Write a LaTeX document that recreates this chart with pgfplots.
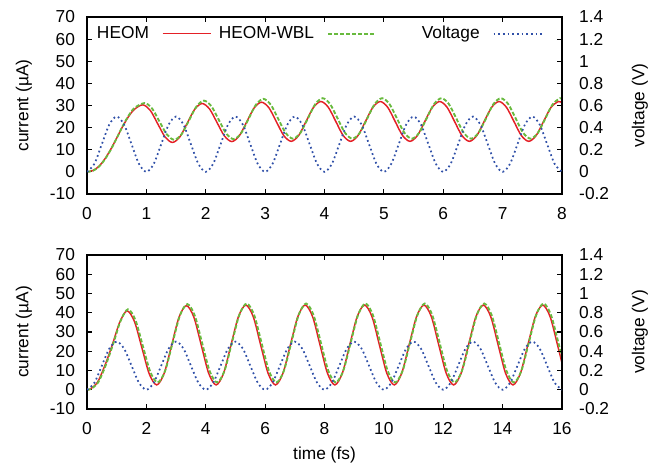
\documentclass[border=0pt]{standalone}
\usepackage{fontspec}
\setmainfont{Liberation Sans}
\usepackage{pgfplots}
\pgfplotsset{compat=1.18}
\definecolor{cred}{RGB}{228,32,38}
\definecolor{cgreen}{RGB}{104,186,62}
\definecolor{cblue}{RGB}{48,80,168}
\newcommand\fs{\fontsize{13pt}{15pt}\selectfont}
\pgfplotsset{
  base/.style={scale only axis, width=356.25pt, xmin=0,
    tick align=inside, major tick length=3.5pt,
    every tick/.style={black, line width=0.9pt},
    axis line style={line width=1.4pt},
    tick label style={font=\fs},
    /pgf/number format/assume math mode=true,
    xticklabel style={yshift=-5.5pt},
  },
  leftax/.style={base, ymin=-10, ymax=70, ytick={-10,0,10,20,30,40,50,60,70},
    ytick pos=left, xtick pos=both,
    yticklabel style={xshift=-4.5pt},
    ylabel={current (µA)},
    every axis y label/.style={at={(rel axis cs:0,0.5)}, xshift=-47.25pt, rotate=90, anchor=center, font=\fs},
  },
  rightax/.style={base, ymin=-0.2, ymax=1.4, ytick={-0.2,0,0.2,0.4,0.6,0.8,1,1.2,1.4},
    hide x axis, ytick pos=right, yticklabel pos=right,
    yticklabel style={xshift=8.4pt, anchor=west},
    ylabel={voltage (V)},
    every axis y label/.style={at={(rel axis cs:1,0.5)}, xshift=58.5pt, rotate=90, anchor=center, font=\fs},
  },
}
\begin{document}
\fs
\begin{tikzpicture}
\path[use as bounding box] (-65.25pt,-204pt) rectangle (431.25pt,145.5pt);
% ---------- top panel ----------
\begin{axis}[leftax, height=132.75pt, xmax=8, xtick={0,1,2,3,4,5,6,7,8},
  legend columns=3, legend plot pos=right,
  legend style={draw=none, fill=none, font=\fs, at={(rel axis cs:0,1)}, anchor=west,
    xshift=-30.5pt, yshift=-12.5pt, inner sep=0pt, outer sep=0pt, row sep=0pt,
    nodes={inner sep=0pt, outer sep=0pt},
    /tikz/every odd column/.style={column sep=9.75pt},
    /tikz/every even column/.style={column sep=0pt}},
]
\addplot[forget plot, color=cred, line width=1.1pt, smooth, no markers] coordinates {
(0,0) (0.1,0.6) (0.2,2.5) (0.3,5.8) (0.4,10.2) (0.5,15.3) (0.6,20.5) (0.7,25.0) (0.8,28.3) (0.94,30.3)
(1.065,27.82) (1.19,21.8) (1.315,15.78) (1.44,13.3)
(1.565,15.87) (1.69,22.1) (1.815,28.33) (1.94,30.9)
(2.065,28.39) (2.19,22.3) (2.315,16.21) (2.44,13.7)
(2.565,16.30) (2.69,22.6) (2.815,28.90) (2.94,31.5)
(3.065,28.92) (3.19,22.65) (3.315,16.38) (3.44,13.8)
(3.565,16.43) (3.69,22.8) (3.815,29.17) (3.94,31.8)
(4.065,29.17) (4.19,22.8) (4.315,16.43) (4.44,13.8)
(4.565,16.43) (4.69,22.8) (4.815,29.17) (4.94,31.8)
(5.065,29.17) (5.19,22.8) (5.315,16.43) (5.44,13.8)
(5.565,16.43) (5.69,22.8) (5.815,29.17) (5.94,31.8)
(6.065,29.17) (6.19,22.8) (6.315,16.43) (6.44,13.8)
(6.565,16.43) (6.69,22.8) (6.815,29.17) (6.94,31.8)
(7.065,29.17) (7.19,22.8) (7.315,16.43) (7.44,13.8)
(7.565,16.43) (7.69,22.8) (7.815,29.17) (7.94,31.8)
(8,31.2)
};
\addplot[forget plot, color=cgreen, line width=1.4pt, dash pattern=on 3pt off 1.5pt, smooth, no markers] coordinates {
(0,0) (0.1,0.5) (0.2,2.3) (0.3,5.6) (0.4,10.0) (0.5,15.2) (0.6,20.6) (0.7,25.4) (0.8,28.9) (0.97,31.1)
(1.095,28.68) (1.22,22.8) (1.345,16.92) (1.47,14.5)
(1.595,17.08) (1.72,23.35) (1.845,29.62) (1.97,32.2)
(2.095,29.66) (2.22,23.5) (2.345,17.34) (2.47,14.8)
(2.595,17.46) (2.72,23.9) (2.845,30.34) (2.97,33.0)
(3.095,30.37) (3.22,24.0) (3.345,17.63) (3.47,15.0)
(3.595,17.67) (3.72,24.15) (3.845,30.63) (3.97,33.3)
(4.095,30.63) (4.22,24.15) (4.345,17.67) (4.47,15.0)
(4.595,17.67) (4.72,24.15) (4.845,30.63) (4.97,33.3)
(5.095,30.63) (5.22,24.15) (5.345,17.67) (5.47,15.0)
(5.595,17.67) (5.72,24.15) (5.845,30.63) (5.97,33.3)
(6.095,30.63) (6.22,24.15) (6.345,17.67) (6.47,15.0)
(6.595,17.67) (6.72,24.15) (6.845,30.63) (6.97,33.3)
(7.095,30.63) (7.22,24.15) (7.345,17.67) (7.47,15.0)
(7.595,17.67) (7.72,24.15) (7.845,30.63) (7.97,33.3)
(8,33.2)
};
\addlegendimage{legend image code/.code={\draw[color=cred, line width=1.1pt, dash pattern=on 40pt off 1pt] (0pt,0pt) -- (36pt,0pt);}}
\addlegendentry{\makebox[77pt][r]{HEOM}}
\addlegendimage{legend image code/.code={\draw[color=cgreen, line width=1.4pt, dash pattern=on 3pt off 1.5pt] (0pt,0pt) -- (36pt,0pt);}}
\addlegendentry{\makebox[77pt][r]{HEOM-WBL}}
\addlegendimage{legend image code/.code={\draw[color=cblue, line width=1.3pt, dash pattern=on 1.3pt off 2.2pt] (0pt,0pt) -- (36pt,0pt);}}
\addlegendentry{\makebox[77pt][r]{Voltage}}
\end{axis}
\begin{axis}[rightax, height=132.75pt, xmax=8]
\addplot[color=cblue, line width=1.3pt, dash pattern=on 1.3pt off 2.2pt, smooth, no markers] coordinates {
(0,0) (0.125,0.0732) (0.25,0.25) (0.375,0.4268) (0.5,0.5) (0.625,0.4268) (0.75,0.25) (0.875,0.0732)
(1,0) (1.125,0.0732) (1.25,0.25) (1.375,0.4268) (1.5,0.5) (1.625,0.4268) (1.75,0.25) (1.875,0.0732)
(2,0) (2.125,0.0732) (2.25,0.25) (2.375,0.4268) (2.5,0.5) (2.625,0.4268) (2.75,0.25) (2.875,0.0732)
(3,0) (3.125,0.0732) (3.25,0.25) (3.375,0.4268) (3.5,0.5) (3.625,0.4268) (3.75,0.25) (3.875,0.0732)
(4,0) (4.125,0.0732) (4.25,0.25) (4.375,0.4268) (4.5,0.5) (4.625,0.4268) (4.75,0.25) (4.875,0.0732)
(5,0) (5.125,0.0732) (5.25,0.25) (5.375,0.4268) (5.5,0.5) (5.625,0.4268) (5.75,0.25) (5.875,0.0732)
(6,0) (6.125,0.0732) (6.25,0.25) (6.375,0.4268) (6.5,0.5) (6.625,0.4268) (6.75,0.25) (6.875,0.0732)
(7,0) (7.125,0.0732) (7.25,0.25) (7.375,0.4268) (7.5,0.5) (7.625,0.4268) (7.75,0.25) (7.875,0.0732)
(8,0)
};
\end{axis}
% ---------- bottom panel ----------
\begin{axis}[leftax, at={(0,-161.25pt)}, height=115.5pt, xmax=16, xtick={0,2,4,6,8,10,12,14,16},
  xlabel={time (fs)},
  every axis x label/.style={at={(rel axis cs:0.5,0)}, yshift=-34.5pt, anchor=center, font=\fs},
]
\addplot[color=cred, line width=1.1pt, smooth, no markers] coordinates {
(0,0) (0.1,0.3) (0.35,3.8) (0.6,12.5) (0.85,23.2) (1.1,35.0) (1.35,41.0)
(1.6,35.38) (1.85,21.75) (2.1,8.12) (2.35,2.5)
(2.6,8.52) (2.85,23.1) (3.1,37.68) (3.35,43.7)
(3.6,37.68) (3.85,23.1) (4.1,8.52) (4.35,2.5)
(4.6,8.56) (4.85,23.25) (5.1,37.94) (5.35,44.0)
(5.6,37.94) (5.85,23.25) (6.1,8.56) (6.35,2.5)
(6.6,8.56) (6.85,23.25) (7.1,37.94) (7.35,44.0)
(7.6,37.94) (7.85,23.25) (8.1,8.56) (8.35,2.5)
(8.6,8.56) (8.85,23.25) (9.1,37.94) (9.35,44.0)
(9.6,37.94) (9.85,23.25) (10.1,8.56) (10.35,2.5)
(10.6,8.56) (10.85,23.25) (11.1,37.94) (11.35,44.0)
(11.6,37.94) (11.85,23.25) (12.1,8.56) (12.35,2.5)
(12.6,8.56) (12.85,23.25) (13.1,37.94) (13.35,44.0)
(13.6,37.94) (13.85,23.25) (14.1,8.56) (14.35,2.5)
(14.6,8.56) (14.85,23.25) (15.1,37.94) (15.35,44.0)
(15.6,37.94) (15.85,23.25) (16,13.8)
};
\addplot[color=cgreen, line width=1.4pt, dash pattern=on 3pt off 1.5pt, smooth, no markers] coordinates {
(0,0) (0.13,0.4) (0.38,3.9) (0.63,12.7) (0.88,23.7) (1.13,35.7) (1.38,41.8)
(1.63,36.25) (1.88,22.8) (2.13,9.35) (2.38,3.8)
(2.63,9.74) (2.88,24.15) (3.13,38.56) (3.38,44.5)
(3.63,38.56) (3.88,24.15) (4.13,9.74) (4.38,3.8)
(4.63,9.79) (4.88,24.3) (5.13,38.81) (5.38,44.8)
(5.63,38.81) (5.88,24.3) (6.13,9.79) (6.38,3.8)
(6.63,9.79) (6.88,24.3) (7.13,38.81) (7.38,44.8)
(7.63,38.81) (7.88,24.3) (8.13,9.79) (8.38,3.8)
(8.63,9.79) (8.88,24.3) (9.13,38.81) (9.38,44.8)
(9.63,38.81) (9.88,24.3) (10.13,9.79) (10.38,3.8)
(10.63,9.79) (10.88,24.3) (11.13,38.81) (11.38,44.8)
(11.63,38.81) (11.88,24.3) (12.13,9.79) (12.38,3.8)
(12.63,9.79) (12.88,24.3) (13.13,38.81) (13.38,44.8)
(13.63,38.81) (13.88,24.3) (14.13,9.79) (14.38,3.8)
(14.63,9.79) (14.88,24.3) (15.13,38.81) (15.38,44.8)
(15.63,38.81) (15.88,24.3) (16,16.8)
};
\end{axis}
\begin{axis}[rightax, at={(0,-161.25pt)}, height=115.5pt, xmax=16]
\addplot[color=cblue, line width=1.3pt, dash pattern=on 1.3pt off 2.2pt, smooth, no markers] coordinates {
(0,0) (0.25,0.0732) (0.5,0.25) (0.75,0.4268) (1,0.5) (1.25,0.4268) (1.5,0.25) (1.75,0.0732)
(2,0) (2.25,0.0732) (2.5,0.25) (2.75,0.4268) (3,0.5) (3.25,0.4268) (3.5,0.25) (3.75,0.0732)
(4,0) (4.25,0.0732) (4.5,0.25) (4.75,0.4268) (5,0.5) (5.25,0.4268) (5.5,0.25) (5.75,0.0732)
(6,0) (6.25,0.0732) (6.5,0.25) (6.75,0.4268) (7,0.5) (7.25,0.4268) (7.5,0.25) (7.75,0.0732)
(8,0) (8.25,0.0732) (8.5,0.25) (8.75,0.4268) (9,0.5) (9.25,0.4268) (9.5,0.25) (9.75,0.0732)
(10,0) (10.25,0.0732) (10.5,0.25) (10.75,0.4268) (11,0.5) (11.25,0.4268) (11.5,0.25) (11.75,0.0732)
(12,0) (12.25,0.0732) (12.5,0.25) (12.75,0.4268) (13,0.5) (13.25,0.4268) (13.5,0.25) (13.75,0.0732)
(14,0) (14.25,0.0732) (14.5,0.25) (14.75,0.4268) (15,0.5) (15.25,0.4268) (15.5,0.25) (15.75,0.0732)
(16,0)
};
\end{axis}
\end{tikzpicture}
\end{document}
